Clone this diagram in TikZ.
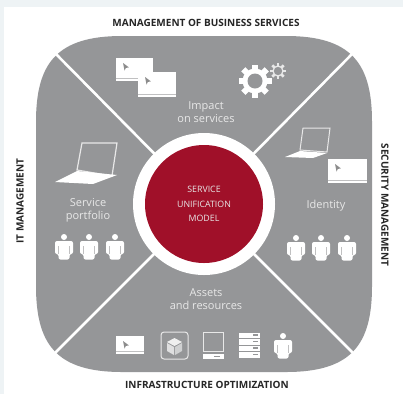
\documentclass[tikz,border=0pt]{standalone}
\usepackage{fontspec}
\setmainfont{Open Sans}
\usepackage{tikz}
\usetikzlibrary{calc}
\definecolor{panelgray}{HTML}{959698}
\definecolor{hubred}{HTML}{A01029}
\definecolor{stripblue}{HTML}{EEF3F5}
\definecolor{softwhite}{HTML}{E8E8E8}
\tikzset{
	sidelabel/.style={font=\bfseries\fontsize{10}{12}\selectfont,text=black!85},
	panellabel/.style={font=\fontsize{11}{13}\selectfont,text=softwhite,align=center},
	hublabel/.style={font=\fontsize{8.8}{14.5}\selectfont,text=softwhite,align=center},
	divider/.style={white,line width=2.6pt},
	outline/.style={draw=softwhite,line width=1pt},
	personicon/.pic={
		\fill[white] (0,-9) circle (3);
		\fill[white,rounded corners=2] (-9,-5) -- (9,-5) -- (9,8) -- (5.5,8) -- (5.5,13.5) -- (-5.5,13.5) -- (-5.5,8) -- (-9,8) -- cycle;
		\draw[panelgray!60!white,line width=.5pt] (-5.5,0) -- (-5.5,8) (5.5,0) -- (5.5,8);
	},
	gearicon/.pic={
		\foreach \a in {0,45,...,315}
			\fill[white,rotate=\a] (-3,-16.5) rectangle (3,-9);
		\fill[white] (0,0) circle (12.5);
		\fill[panelgray] (0,0) circle (7.5);
	},
	smallgearicon/.pic={
		\foreach \a in {0,45,...,315}
			\fill[softwhite,rotate=\a] (-1.4,-8) rectangle (1.4,-5);
		\draw[softwhite,line width=1.3pt] (0,0) circle (5);
	}
}
\newcommand{\deskscreen}[4]{%
	\fill[white] (#1,#2) rectangle (#3,#4);
	\draw[panelgray!60,line width=.5pt] (#1,#4-2.5) -- (#3,#4-2.5);
	\fill[black!45] ($(#1,#2)+(7,5)$) -- ++(1.5,7.5) -- ++(1.4,-2.6) -- ++(3,-.5) -- cycle;
}
\begin{document}
\begin{tikzpicture}[x=1pt,y=-1pt]
	\useasboundingbox (0,0) rectangle (403,394);
	\fill[white] (0,0) rectangle (403,394);
	\fill[stripblue] (0,0) rectangle (403,7);
	\fill[stripblue] (0,0) rectangle (4,394);
	% rounded panel
	\fill[panelgray] (36,122) .. controls (36,64) and (56,36) .. (122,36) -- (286,36)
		.. controls (352,36) and (372,64) .. (372,122) -- (372,286)
		.. controls (372,344) and (352,372) .. (286,372) -- (122,372)
		.. controls (56,372) and (36,344) .. (36,286) -- cycle;
	% dividers
	\coordinate (centre) at (204,204);
	\coordinate (corner nw) at (53,51);
	\coordinate (corner ne) at (355,51);
	\coordinate (corner sw) at (53,355);
	\coordinate (corner se) at (355,355);
	\draw[divider] (centre) -- (corner nw);
	\draw[divider] (centre) -- (corner ne);
	\draw[divider] (centre) -- (corner sw);
	\draw[divider] (centre) -- (corner se);
	% hub
	\fill[white] (centre) circle (71);
	\node[circle,fill=hubred,minimum size=118pt,inner sep=0pt,hublabel] (hub) at (centre) {SERVICE\\UNIFICATION\\MODEL};
	% outer labels
	\node[sidelabel] (top label) at (206,23) {MANAGEMENT OF BUSINESS SERVICES};
	\node[sidelabel] (bottom label) at (207,385) {INFRASTRUCTURE OPTIMIZATION};
	\node[sidelabel,rotate=90] (left label) at (20,201) {IT MANAGEMENT};
	\node[sidelabel,rotate=-90] (right label) at (385,205) {SECURITY MANAGEMENT};
	% panel labels
	\node[panellabel] (impact) at (206,112) {Impact\\on services};
	\node[panellabel] (portfolio) at (88,210) {Service\\portfolio};
	\node[panellabel] (identity) at (326,206) {Identity};
	\node[panellabel] (assets) at (206,299) {Assets\\and resources};
	% top icons
	\deskscreen{116}{58}{153}{81}
	\deskscreen{138}{72}{176}{97}
	\pic at (255,81) {gearicon};
	\pic at (278,71) {smallgearicon};
	% left laptop
	\draw[outline,line width=1.2pt] (82,143) -- (117,143) -- (112,176) -- (77,170) -- cycle;
	\fill[white] (55,182) -- (77,171) -- (117,175) -- (93,184) -- cycle;
	\foreach \x in {64,89,115}
		\pic at (\x,246) {personicon};
	% right laptop and screen
	\draw[outline] (303,128) -- (330,128) -- (327,152) -- (300,150) -- cycle;
	\fill[white] (285,157) -- (300,151) -- (327,153) -- (313,158) -- cycle;
	\deskscreen{328}{159}{367}{183}
	\foreach \x in {296,321,347}
		\pic at (\x,247) {personicon};
	% bottom icons
	\deskscreen{116}{336}{144}{354}
	\draw[outline,rounded corners=3] (161,332) rectangle (188,359);
	\fill[white!85!panelgray] (174.5,338) -- (182,342) -- (174.5,346) -- (167,342) -- cycle;
	\fill[white!70!panelgray] (167,343) -- (174,347) -- (174,355) -- (167,351) -- cycle;
	\fill[white!55!panelgray] (182,343) -- (175,347) -- (175,355) -- (182,351) -- cycle;
	\draw[outline] (203.5,332.5) rectangle (223,351);
	\fill[white] (203,353.5) rectangle (223.5,359);
	\draw[panelgray,line width=.5pt] (214,356) -- (220,356);
	\foreach \y in {332.5,339,345.5,352}{
		\fill[white] (239,\y) rectangle (260,\y+5.6);
		\fill[panelgray] (253,\y+1.5) rectangle (258,\y+3);
	}
	\pic at (283,345) {personicon};
\end{tikzpicture}
\end{document}
